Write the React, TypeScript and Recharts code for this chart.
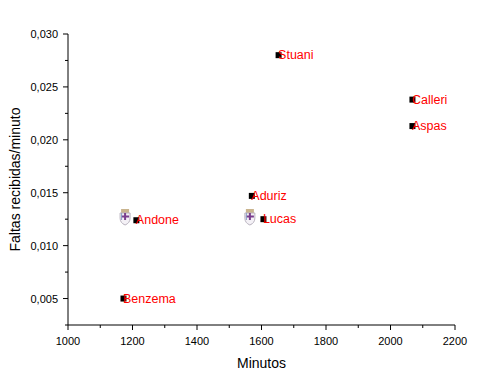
import { ScatterChart, Scatter, XAxis, YAxis } from "recharts";

// Minutes played vs fouls received per minute.
const players = ["Stuani", "Calleri", "Aspas", "Aduriz", "Lucas", "Andone", "Benzema"];
const minutos = [1653, 2068, 2068, 1570, 1606, 1212, 1172];
const faltas = [0.028, 0.0238, 0.0213, 0.0147, 0.0125, 0.0124, 0.005];

// club crest icons sitting beside two of the points
const crestX = [1177, 1564];
const crestY = [0.0128, 0.0128];

const xTicks = [1000, 1100, 1200, 1300, 1400, 1500, 1600, 1700, 1800, 1900, 2000, 2100, 2200];
const yTicks = [
  0.0025, 0.005, 0.0075, 0.01, 0.0125, 0.015, 0.0175, 0.02, 0.0225, 0.025, 0.0275, 0.03,
];

const FONT = "'Liberation Sans', Arial, sans-serif";
const RED = "#ff0000";

const points = players.map((name, i) => ({ name, x: minutos[i], y: faltas[i] }));
const crests = crestX.map((x, i) => ({ x, y: crestY[i] }));

function XTick({ x, y, payload }: any) {
  const v = payload.value as number;
  const major = v % 200 === 0;
  return (
    <g>
      <line x1={x} x2={x} y1={y} y2={y + (major ? 5 : 3)} stroke="#000" />
      {major && (
        <text x={x} y={y + 20} textAnchor="middle" fontSize={11} fontFamily={FONT} fill="#000">
          {v}
        </text>
      )}
    </g>
  );
}

function YTick({ x, y, payload }: any) {
  const v = payload.value as number;
  const major = Math.abs(v * 200 - Math.round(v * 200)) < 1e-6;
  return (
    <g>
      <line x1={x - (major ? 5 : 3)} x2={x} y1={y} y2={y} stroke="#000" />
      {major && (
        <text x={x - 10} y={y + 4} textAnchor="end" fontSize={11} fontFamily={FONT} fill="#000">
          {v.toFixed(3).replace(".", ",")}
        </text>
      )}
    </g>
  );
}

function PlayerDot(props: any) {
  const { cx, cy, payload } = props;
  return (
    <g>
      <rect x={cx - 3} y={cy - 3} width={6} height={6} fill="#000" />
      <text x={cx - 0.5} y={cy + 4} fontSize={12.5} fontFamily={FONT} fill={RED}>
        {payload.name}
      </text>
    </g>
  );
}

function Crest(props: any) {
  const { cx, cy } = props;
  return (
    <g>
      <rect x={cx - 4} y={cy - 7} width={8} height={4} fill="#c9b48e" />
      <path
        d={`M${cx - 5} ${cy - 3} h10 v5 q0 5 -5 7 q-5 -2 -5 -7 z`}
        fill="#f4f1f6"
        stroke="#b9b3bf"
      />
      <rect x={cx - 4} y={cy - 0.5} width={8} height={2} fill="#7a3e8e" />
      <rect x={cx - 1} y={cy - 3} width={2} height={7} fill="#7a3e8e" />
      <rect x={cx - 4} y={cy - 3} width={1} height={7} fill="#8aa0c8" />
    </g>
  );
}

export default function App() {
  return (
    <div style={{ width: 484, height: 376, background: "#fff" }}>
      <style>{"body{margin:0}"}</style>
      <ScatterChart width={484} height={376} margin={{ top: 34, right: 29, bottom: 0, left: 8 }}>
        <XAxis
          type="number"
          dataKey="x"
          domain={[1000, 2200]}
          ticks={xTicks}
          interval={0}
          tickSize={0}
          tickMargin={0}
          tickLine={false}
          axisLine={{ stroke: "#000" }}
          tick={<XTick />}
          height={51}
          allowDataOverflow
          label={{
            value: "Minutos",
            position: "insideBottom",
            offset: 8,
            style: { fontSize: 14, fontFamily: FONT, fill: "#000" },
          }}
        />
        <YAxis
          type="number"
          dataKey="y"
          domain={[0.0025, 0.03]}
          ticks={yTicks}
          interval={0}
          tickSize={0}
          tickMargin={0}
          tickLine={false}
          axisLine={{ stroke: "#000" }}
          tick={<YTick />}
          width={60}
          allowDataOverflow
          label={{
            value: "Faltas recibidas/minuto",
            angle: -90,
            position: "insideLeft",
            offset: 7,
            style: { fontSize: 14, fontFamily: FONT, fill: "#000", textAnchor: "middle" },
          }}
        />
        <Scatter data={crests} shape={<Crest />} isAnimationActive={false} />
        <Scatter data={points} shape={<PlayerDot />} isAnimationActive={false} />
      </ScatterChart>
    </div>
  );
}
